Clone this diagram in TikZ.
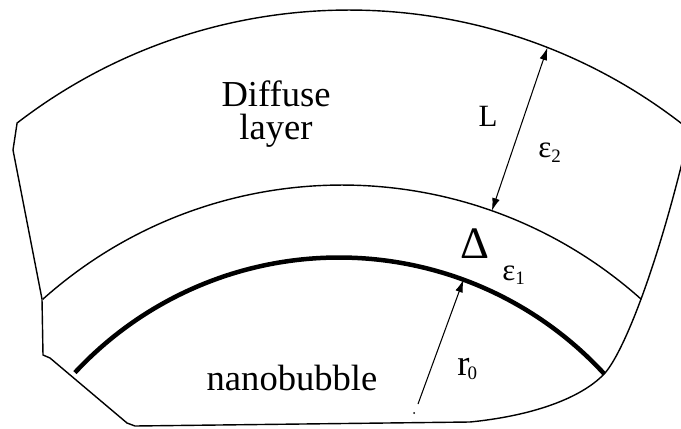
\documentclass[tikz,border=0pt]{standalone}
\usepackage{fontspec}
\setmainfont{Liberation Serif}
\usetikzlibrary{arrows.meta}
\newcommand\lowsub[1]{\raisebox{-3.2pt}{\fontsize{13.5}{13.5}\selectfont #1}}

\begin{document}
\begin{tikzpicture}[x=0.025cm,y=0.025cm,
  outline/.style={line width=1pt,line join=round},
  shell/.style={line width=1pt},
  wall/.style={line width=3.2pt},
  dim/.style={line width=0.75pt},
  tip/.style={-{Latex[length=9pt,width=5.5pt]}},
  lbl/.style={inner sep=0pt,font=\fontsize{26}{26}\selectfont},
  sym/.style={inner sep=0pt,font=\fontsize{22}{22}\selectfont},
  big/.style={inner sep=0pt,font=\fontsize{32}{32}\selectfont}]
\fill[white] (0,0) rectangle (681,428);
\useasboundingbox (0,0) rectangle (681,428);
\clip (0,0) rectangle (681,428);
% centres of the three arcs
\coordinate (topc) at (349,-126);
\coordinate (midc) at (342,-206);
\coordinate (wallc) at (339,-190);
% outer boundary of the diffuse layer
\draw[outline] (topc) ++(127.6:544) coordinate (tl)
  arc[start angle=127.6,end angle=51.2,radius=544] coordinate (tr)
  .. controls (660,168) and (625,78) .. (605,55)
  .. controls (585,33) and (540,13) .. (470,6)
  -- (135,2) -- (127,5) -- (50,70) -- (43,73) -- (42,129) -- (13,278) -- cycle;
% inner shell and bubble wall
\draw[shell] (midc) ++(131.8:449) arc[start angle=131.8,end angle=48.2,radius=449];
\draw[wall] (wallc) ++(137.1:360.5) arc[start angle=137.1,end angle=42.6,radius=360.5];
% dimension arrows
\path (topc) ++(68.6:544) coordinate (Ltop);
\path (midc) ++(70.5:449) coordinate (Lbot);
\path (wallc) ++(69.8:360.5) coordinate (rtip);
\coordinate (rfoot) at (418,24);
\draw[dim,{Latex[length=9pt,width=5.5pt]}-{Latex[length=9pt,width=5.5pt]}] (Lbot) -- (Ltop);
\draw[dim,tip] (rfoot) -- (rtip);
\fill (414,15) circle[radius=1];
% labels
\node[lbl,anchor=base] (diffuse) at (276,321) {Diffuse};
\node[lbl,anchor=base] (layer) at (276,288) {layer};
\node[lbl,anchor=base] (bubble) at (292,38) {nanobubble};
\node[sym,anchor=base] (Llab) at (488,301) {L};
\node[sym,anchor=base west] (eps2) at (538,270) {ε\lowsub{2}};
\node[big,anchor=base west] (delta) at (460,170) {Δ};
\node[sym,anchor=base west] (eps1) at (502,148) {ε\lowsub{1}};
\node[lbl,anchor=base west] (rlab) at (457,53) {r\kern-0.05em\lowsub{0}};
\end{tikzpicture}
\end{document}
